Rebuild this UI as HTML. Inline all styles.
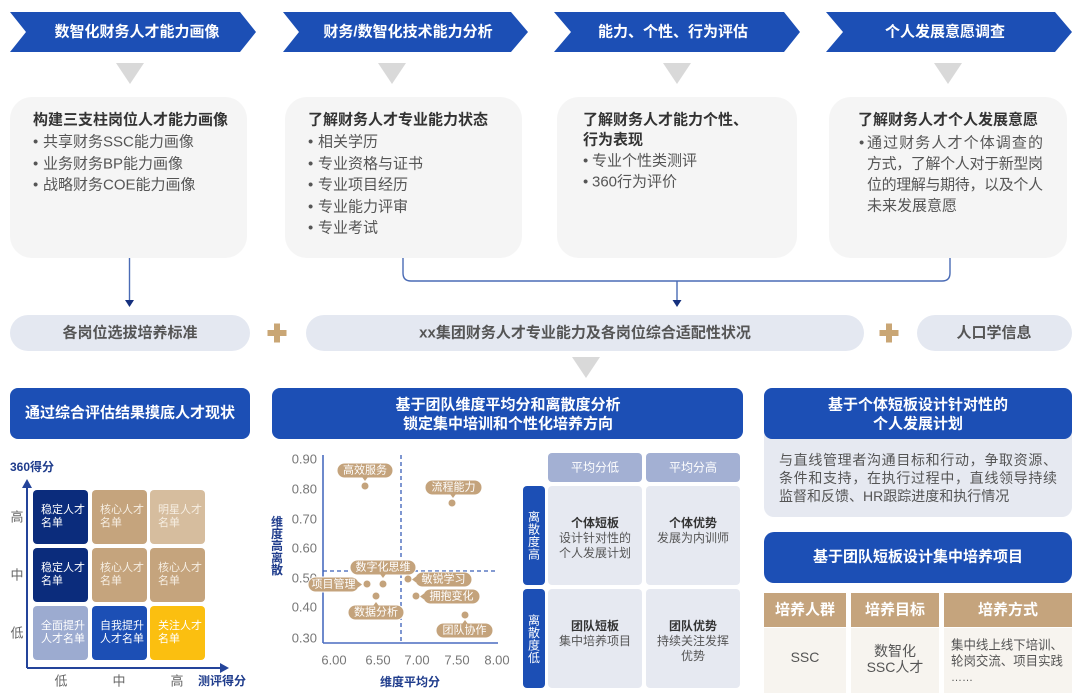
<!DOCTYPE html>
<html><head><meta charset="utf-8">
<style>
html,body{margin:0;padding:0;background:#fff;}
svg{display:block;font-family:"Liberation Sans","Noto Sans CJK SC",sans-serif;}
text{dominant-baseline:central;}
</style></head>
<body>
<svg width="1080" height="700" viewBox="0 0 1080 700" xmlns="http://www.w3.org/2000/svg">
<!-- Chevrons -->
<g fill="#1c4fb5">
<polygon points="10,12 240,12 256,32 240,52 10,52 26,32"/>
<polygon points="283,12 511,12 528,32 511,52 283,52 299,32"/>
<polygon points="554,12 784,12 800,32 784,52 554,52 571,32"/>
<polygon points="826,12 1055,12 1072,32 1055,52 826,52 843,32"/>
</g>
<g fill="#fff" font-size="15" font-weight="700" text-anchor="middle">
<text x="137" y="32">数智化财务人才能力画像</text>
<text x="408" y="32">财务/数智化技术能力分析</text>
<text x="673" y="32">能力、个性、行为评估</text>
<text x="945" y="32">个人发展意愿调查</text>
</g>
<!-- gray triangles -->
<g fill="#d9d9d9">
<polygon points="116,63 144,63 130,84"/>
<polygon points="378,63 406,63 392,84"/>
<polygon points="663,63 691,63 677,84"/>
<polygon points="934,63 962,63 948,84"/>
<polygon points="572,357 600,357 586,378"/>
</g>
<!-- cards -->
<g fill="#f5f5f5">
<rect x="10" y="97" width="237" height="161" rx="22"/>
<rect x="285" y="97" width="237" height="161" rx="22"/>
<rect x="557" y="97" width="240" height="161" rx="22"/>
<rect x="829" y="97" width="238" height="161" rx="22"/>
</g>
<g font-size="15">
<text x="33" y="120" font-weight="700" fill="#333">构建三支柱岗位人才能力画像</text>
<g fill="#555">
<text x="33" y="142">•</text><text x="43" y="142">共享财务SSC能力画像</text>
<text x="33" y="164">•</text><text x="43" y="164">业务财务BP能力画像</text>
<text x="33" y="185">•</text><text x="43" y="185">战略财务COE能力画像</text>
</g>
<text x="308" y="120" font-weight="700" fill="#333">了解财务人才专业能力状态</text>
<g fill="#555">
<text x="308" y="142">•</text><text x="318" y="142">相关学历</text>
<text x="308" y="164">•</text><text x="318" y="164">专业资格与证书</text>
<text x="308" y="185">•</text><text x="318" y="185">专业项目经历</text>
<text x="308" y="207">•</text><text x="318" y="207">专业能力评审</text>
<text x="308" y="228">•</text><text x="318" y="228">专业考试</text>
</g>
<text x="583" y="120" font-weight="700" fill="#333">了解财务人才能力个性、</text>
<text x="583" y="140" font-weight="700" fill="#333">行为表现</text>
<g fill="#555">
<text x="583" y="161">•</text><text x="592" y="161">专业个性类测评</text>
<text x="583" y="182">•</text><text x="592" y="182">360行为评价</text>
</g>
<text x="858" y="120" font-weight="700" fill="#333">了解财务人才个人发展意愿</text>
<g fill="#555">
<text x="859" y="143">•</text>
<text x="867" y="143" textLength="176" lengthAdjust="spacing">通过财务人才个体调查的</text>
<text x="867" y="164" textLength="176" lengthAdjust="spacing">方式，了解个人对于新型岗</text>
<text x="867" y="185" textLength="176" lengthAdjust="spacing">位的理解与期待，以及个人</text>
<text x="867" y="206">未来发展意愿</text>
</g>
</g>
<!-- connectors -->
<g stroke="#4a6bb5" stroke-width="1.4" fill="none">
<line x1="129.5" y1="258" x2="129.5" y2="301"/>
<path d="M403,258 V273 Q403,281 411,281 H942 Q950,281 950,273 V258"/>
<line x1="677" y1="281" x2="677" y2="301"/>
</g>
<g fill="#15307e">
<polygon points="125,300 134,300 129.5,307"/>
<polygon points="672.5,300 681.5,300 677,307"/>
</g>
<!-- pills -->
<g fill="#e4e8f1">
<rect x="10" y="315" width="240" height="36" rx="18"/>
<rect x="306" y="315" width="558" height="36" rx="18"/>
<rect x="917" y="315" width="155" height="36" rx="18"/>
</g>
<g font-size="15" font-weight="700" fill="#555" text-anchor="middle">
<text x="130" y="333">各岗位选拔培养标准</text>
<text x="585" y="333">xx集团财务人才专业能力及各岗位综合适配性状况</text>
<text x="994" y="333">人口学信息</text>
</g>
<g fill="#c9a675">
<rect x="267.5" y="330" width="19" height="6"/><rect x="274" y="323.5" width="6" height="19"/>
<rect x="879.5" y="330" width="19" height="6"/><rect x="886" y="323.5" width="6" height="19"/>
</g>
<!-- right gray panel -->
<rect x="764" y="420" width="308" height="97" rx="10" fill="#e6e9f1"/>
<!-- blue boxes -->
<g fill="#1c4fb5">
<rect x="10" y="388" width="240" height="51" rx="8"/>
<rect x="272" y="388" width="471" height="51" rx="8"/>
<rect x="764" y="388" width="308" height="51" rx="8"/>
<rect x="764" y="532" width="308" height="51" rx="10"/>
</g>
<g font-size="15" font-weight="700" fill="#fff" text-anchor="middle">
<text x="130" y="413">通过综合评估结果摸底人才现状</text>
<text x="508" y="405">基于团队维度平均分和离散度分析</text>
<text x="508" y="424">锁定集中培训和个性化培养方向</text>
<text x="918" y="405">基于个体短板设计针对性的</text>
<text x="918" y="424">个人发展计划</text>
<text x="918" y="557">基于团队短板设计集中培养项目</text>
</g>
<g font-size="14" fill="#555">
<text x="779" y="460" textLength="278" lengthAdjust="spacing">与直线管理者沟通目标和行动，争取资源、</text>
<text x="779" y="478" textLength="278" lengthAdjust="spacing">条件和支持，在执行过程中，直线领导持续</text>
<text x="779" y="496">监督和反馈、HR跟踪进度和执行情况</text>
</g>
<!-- table -->
<g fill="#c5a47d">
<rect x="764" y="593" width="82" height="34"/>
<rect x="851" y="593" width="88" height="34"/>
<rect x="944" y="593" width="128" height="34"/>
</g>
<g fill="#f7f4ef">
<rect x="764" y="628" width="82" height="65"/>
<rect x="851" y="628" width="88" height="65"/>
<rect x="944" y="628" width="128" height="65"/>
</g>
<g font-size="15" font-weight="700" fill="#fff" text-anchor="middle">
<text x="805" y="610">培养人群</text>
<text x="895" y="610">培养目标</text>
<text x="1008" y="610">培养方式</text>
</g>
<g font-size="14" fill="#555">
<text x="805" y="657" text-anchor="middle">SSC</text>
<text x="895" y="651" text-anchor="middle">数智化</text>
<text x="895" y="667" text-anchor="middle">SSC人才</text>
</g>
<g font-size="13" fill="#555">
<text x="951" y="645" textLength="112" lengthAdjust="spacingAndGlyphs">集中线上线下培训、</text>
<text x="951" y="661" textLength="112" lengthAdjust="spacingAndGlyphs">轮岗交流、项目实践</text>
<text x="951" y="678" font-size="11">……</text>
</g>
<!-- 9-grid -->
<text x="10" y="467" font-size="12" font-weight="700" fill="#1f3c8c">360得分</text>
<g stroke="#24449a" stroke-width="2">
<line x1="27" y1="668" x2="27" y2="486"/>
<line x1="27" y1="668" x2="222" y2="668"/>
</g>
<g fill="#24449a">
<polygon points="22,488 32,488 27,479"/>
<polygon points="220,663 220,673 229,668"/>
</g>
<rect x="33" y="490" width="55" height="54" rx="4" fill="#0b2c7c"/>
<rect x="92" y="490" width="55" height="54" rx="4" fill="#c5a47d"/>
<rect x="150" y="490" width="55" height="54" rx="4" fill="#d6bd9e"/>
<rect x="33" y="548" width="55" height="54" rx="4" fill="#0b2c7c"/>
<rect x="92" y="548" width="55" height="54" rx="4" fill="#c5a47d"/>
<rect x="150" y="548" width="55" height="54" rx="4" fill="#c5a47d"/>
<rect x="33" y="606" width="55" height="54" rx="4" fill="#9cabd0"/>
<rect x="92" y="606" width="55" height="54" rx="4" fill="#1c4fb5"/>
<rect x="150" y="606" width="55" height="54" rx="4" fill="#fbbf10"/>
<g font-size="11" fill="#fff">
<text x="41" y="510">稳定人才</text><text x="41" y="523">名单</text>
<text x="41" y="568">稳定人才</text><text x="41" y="581">名单</text>
<text x="41" y="626">全面提升</text><text x="41" y="639">人才名单</text>
<text x="100" y="626">自我提升</text><text x="100" y="639">人才名单</text>
<text x="158" y="626">关注人才</text><text x="158" y="639">名单</text>
</g>
<g font-size="11" fill="#f6eee2">
<text x="100" y="510">核心人才</text><text x="100" y="523">名单</text>
<text x="158" y="510">明星人才</text><text x="158" y="523">名单</text>
<text x="100" y="568">核心人才</text><text x="100" y="581">名单</text>
<text x="158" y="568">核心人才</text><text x="158" y="581">名单</text>
</g>
<g font-size="13" fill="#666" text-anchor="middle">
<text x="17" y="517">高</text><text x="17" y="575">中</text><text x="17" y="633">低</text>
<text x="61" y="681">低</text><text x="119" y="681">中</text><text x="177" y="681">高</text>
</g>
<text x="222" y="681" font-size="12" font-weight="700" fill="#1f3c8c" text-anchor="middle">测评得分</text>
<!-- scatter -->
<g stroke="#4a6cc0" stroke-width="1.6">
<line x1="323" y1="455" x2="323" y2="643"/>
<line x1="323" y1="643" x2="498" y2="643"/>
</g>
<g stroke="#3a5fb8" stroke-width="1.3" stroke-dasharray="4,3">
<line x1="401" y1="455" x2="401" y2="643"/>
<line x1="323" y1="571" x2="498" y2="571"/>
</g>
<g font-size="13" fill="#777" text-anchor="end">
<text x="317" y="459">0.90</text>
<text x="317" y="489">0.80</text>
<text x="317" y="519">0.70</text>
<text x="317" y="548">0.60</text>
<text x="317" y="578">0.50</text>
<text x="317" y="607">0.40</text>
<text x="317" y="638">0.30</text>
</g>
<g font-size="13" fill="#777" text-anchor="middle">
<text x="334" y="660">6.00</text>
<text x="378" y="660">6.50</text>
<text x="417" y="660">7.00</text>
<text x="457" y="660">7.50</text>
<text x="497" y="660">8.00</text>
</g>
<text x="410" y="682" font-size="12" font-weight="700" fill="#1f3c8c" text-anchor="middle">维度平均分</text>
<g font-size="12" font-weight="700" fill="#1f3c8c" text-anchor="middle">
<text x="277" y="522">维</text><text x="277" y="534">度</text><text x="277" y="546">高</text><text x="277" y="558">离</text><text x="277" y="570">散</text>
</g>
<g fill="#c4a37c">
<circle cx="365" cy="486" r="3.5"/>
<circle cx="452" cy="503" r="3.5"/>
<circle cx="383" cy="584" r="3.5"/>
<circle cx="367" cy="584" r="3.5"/>
<circle cx="376" cy="596" r="3.5"/>
<circle cx="408" cy="579" r="3.5"/>
<circle cx="416" cy="596" r="3.5"/>
<circle cx="465" cy="615" r="3.5"/>
</g>
<g fill="#c4a37c" stroke="#fff" stroke-width="1">
<rect x="337" y="463" width="56" height="15" rx="7.5"/>
<rect x="425" y="480" width="57" height="15" rx="7.5"/>
<rect x="350" y="560" width="66" height="15" rx="7.5"/>
<rect x="308" y="577" width="51" height="15" rx="7.5"/>
<rect x="348" y="605" width="56" height="15" rx="7.5"/>
<rect x="415" y="572" width="57" height="15" rx="7.5"/>
<rect x="423" y="589" width="57" height="15" rx="7.5"/>
<rect x="436" y="623" width="57" height="15" rx="7.5"/>
</g>
<g fill="#c4a37c">
<polygon points="362,477 368,477 365,481"/>
<polygon points="450,494 456,494 453,498"/>
<polygon points="380,574 386,574 383,578"/>
<polygon points="358,581.5 358,587.5 362,584.5"/>
<polygon points="373,606 379,606 376,602"/>
<polygon points="416,576.5 416,582.5 412,579.5"/>
<polygon points="424,593.5 424,599.5 420,596.5"/>
<polygon points="462,624 468,624 465,620"/>
</g>
<g font-size="11" fill="#fff" text-anchor="middle">
<text x="365" y="470.5">高效服务</text>
<text x="453.5" y="487.5">流程能力</text>
<text x="383" y="567.5">数字化思维</text>
<text x="333.5" y="584.5">项目管理</text>
<text x="376" y="612.5">数据分析</text>
<text x="443.5" y="579.5">敏锐学习</text>
<text x="451.5" y="596.5">拥抱变化</text>
<text x="464.5" y="630.5">团队协作</text>
</g>
<!-- 2x2 matrix -->
<g fill="#a3b0d3">
<rect x="548" y="453" width="94" height="29" rx="4"/>
<rect x="646" y="453" width="94" height="29" rx="4"/>
</g>
<g font-size="12" fill="#fff" text-anchor="middle">
<text x="595" y="467.5">平均分低</text>
<text x="693" y="467.5">平均分高</text>
</g>
<g fill="#1c4fb5">
<rect x="523" y="486" width="22" height="99" rx="4"/>
<rect x="523" y="589" width="22" height="99" rx="4"/>
</g>
<g font-size="12" fill="#fff" text-anchor="middle">
<text x="534" y="517">离</text><text x="534" y="529.5">散</text><text x="534" y="542">度</text><text x="534" y="554.5">高</text>
<text x="534" y="620.5">离</text><text x="534" y="633">散</text><text x="534" y="645.5">度</text><text x="534" y="658">低</text>
</g>
<g fill="#e6e9f1">
<rect x="548" y="486" width="94" height="99" rx="4"/>
<rect x="646" y="486" width="94" height="99" rx="4"/>
<rect x="548" y="589" width="94" height="99" rx="4"/>
<rect x="646" y="589" width="94" height="99" rx="4"/>
</g>
<g font-size="12" text-anchor="middle">
<text x="595" y="523" font-weight="700" fill="#333">个体短板</text>
<text x="595" y="538" fill="#555">设计针对性的</text>
<text x="595" y="553" fill="#555">个人发展计划</text>
<text x="693" y="523" font-weight="700" fill="#333">个体优势</text>
<text x="693" y="538" fill="#555">发展为内训师</text>
<text x="595" y="626" font-weight="700" fill="#333">团队短板</text>
<text x="595" y="641" fill="#555">集中培养项目</text>
<text x="693" y="626" font-weight="700" fill="#333">团队优势</text>
<text x="693" y="641" fill="#555">持续关注发挥</text>
<text x="693" y="656" fill="#555">优势</text>
</g>
</svg>
</body></html>
